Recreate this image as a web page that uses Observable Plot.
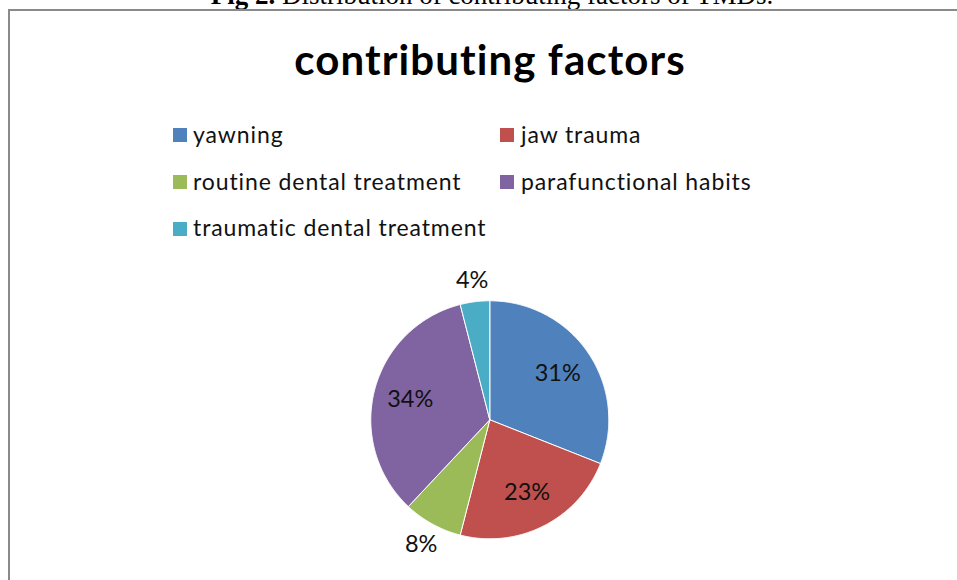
<!DOCTYPE html>
<html>
<head>
<meta charset="utf-8">
<script src="https://cdn.jsdelivr.net/npm/d3@7"></script>
<script src="https://cdn.jsdelivr.net/npm/@observablehq/plot@0.6"></script>
<style>
  html, body { margin: 0; padding: 0; background: #fff; }
  body { width: 957px; height: 580px; position: relative; overflow: hidden; }
  .caption { position: absolute; left: 0; top: -17.6px; width: 984px; text-align: center;
    font-family: "Liberation Serif", "Times New Roman", serif; font-size: 27px; line-height: 27px; color: #000; white-space: nowrap; }
  .frame { position: absolute; left: 8px; top: 9px; width: 1200px; height: 800px;
    border-left: 2px solid #8a8a8a; border-top: 2px solid #8a8a8a; }
  .title { position: absolute; left: 0; top: 38.3px; width: 980px; text-align: center;
    font-family: Lato, sans-serif; font-weight: bold; font-size: 42px; line-height: 42px; letter-spacing: 1.1px;
    font-variant-ligatures: none; color: #000; white-space: nowrap; }
  .lg-text { position: absolute; font-family: Lato, sans-serif; font-size: 23px; line-height: 23px; letter-spacing: 0.9px;
    font-variant-ligatures: none; color: #111; white-space: nowrap; }
  .lg-sw { position: absolute; width: 14px; height: 14px; }
  #chart { position: absolute; left: 0; top: 260px; }
</style>
</head>
<body>
<div class="caption"><b>Fig 2.</b> Distribution of contributing factors of TMDs.</div>
<div class="frame"></div>
<div class="title">contributing factors</div>
<div id="legend"></div>
<div id="chart"></div>
<script>
// ---- data ----
const categories = ["yawning", "jaw trauma", "routine dental treatment", "parafunctional habits", "traumatic dental treatment"];
const percentages = [31, 23, 8, 34, 4];
const colors = ["#4F81BD", "#C0504D", "#9BBB59", "#8064A2", "#4BACC6"];

// ---- legend (HTML above the plot) ----
const legend = document.getElementById("legend");
const rowBaselines = [143, 190.3, 236.5];
const colSwatchX = [173, 500];
const colTextX = [193, 521];
categories.forEach((name, i) => {
  const row = Math.floor(i / 2), col = i % 2;
  const b = rowBaselines[row];
  const sw = document.createElement("div");
  sw.className = "lg-sw";
  sw.style.left = colSwatchX[col] + "px";
  sw.style.top = (b - 15) + "px";
  sw.style.background = colors[i];
  legend.appendChild(sw);
  const t = document.createElement("div");
  t.className = "lg-text";
  t.style.left = colTextX[col] + "px";
  t.style.top = (b - 20.4) + "px";
  t.textContent = name;
  legend.appendChild(t);
});

// ---- pie geometry ----
const W = 957, H = 320;
const cx = 489.3, cy = 159.3, R = 119;
const rows = categories.map((name, i) => ({name, value: percentages[i]}));
const arcs = d3.pie().sort(null).value(d => d.value).startAngle(0).endAngle(2 * Math.PI)(rows);

const slicePts = [];
arcs.forEach(a => {
  const name = a.data.name;
  slicePts.push({name, x: 0, y: 0});
  const n = Math.max(2, Math.ceil((a.endAngle - a.startAngle) / (Math.PI / 360)));
  for (let k = 0; k <= n; k++) {
    const t = a.startAngle + (a.endAngle - a.startAngle) * k / n;
    slicePts.push({name, x: Math.sin(t), y: Math.cos(t)});
  }
  slicePts.push({name, x: 0, y: 0});
});

// label positions: inside for large slices, outside for small
const fs = 23.5;
const labels = arcs.map(a => {
  const mid = (a.startAngle + a.endAngle) / 2;
  const ux = Math.sin(mid), uy = Math.cos(mid);
  const label = a.data.value + "%";
  let r;
  if (a.data.value >= 10) r = 0.69;
  else {
    const hw = label.length * 0.36 * fs / 2 / R, hh = 0.5 * fs * 0.9 / R;
    r = 1 + 10 / R + Math.abs(ux) * hw + Math.abs(uy) * hh;
  }
  return {label, x: ux * r, y: uy * r};
});

const chart = Plot.plot({
  width: W,
  height: H,
  margin: 0,
  x: {domain: [-1, 1], range: [cx - R, cx + R], axis: null},
  y: {domain: [-1, 1], range: [cy + R, cy - R], axis: null},
  color: {domain: categories, range: colors},
  style: {background: "transparent", overflow: "visible"},
  marks: [
    Plot.line(slicePts, {x: "x", y: "y", z: "name", fill: "name", stroke: "white", strokeWidth: 1, curve: "linear", strokeLinejoin: "round"}),
    Plot.text(labels, {x: "x", y: "y", text: "label", fontSize: fs, fontFamily: "Lato, sans-serif", fill: "#111", textAnchor: "middle"})
  ]
});
document.getElementById("chart").appendChild(chart);
</script>
</body>
</html>
